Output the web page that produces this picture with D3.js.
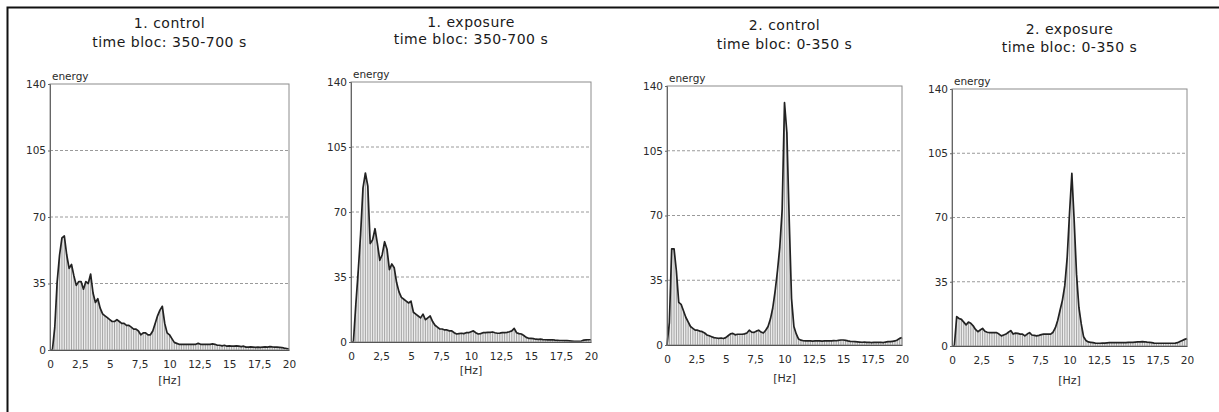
<!DOCTYPE html>
<html><head><meta charset="utf-8">
<script src="https://cdn.jsdelivr.net/npm/d3@7"></script>
<style>
html,body{margin:0;padding:0;background:#fff;}
svg{display:block;font-family:"DejaVu Sans",sans-serif;}
</style></head><body>
<svg id="chart" width="1219" height="412"></svg>
<script>
// frequency bins (Hz), 0.2 Hz resolution
const freqHz = d3.range(0, 101).map(i => +(i * 0.2).toFixed(1));

const energy1Control = [
  0,0,12,36,50,59,60,50,43,45,
  39,34,36,36,32,36,35,40,30,25,
  27,22,19,18,17,16,15,15,16,15,
  14,14,13,13,12,11,11,10,8,9,
  9,8,8,10,14,18,21,23,14,9,
  8,6,4,3.5,3,3,3,3,3,3,
  3,3,3.5,3,3,3,3,3,3.2,3,
  2.5,2.5,2.2,2.5,2,2.2,2,2,2.2,2,
  1.8,2,1.5,1.5,1.6,1.5,1.4,1.5,1.4,1.5,
  1.6,1.5,1.8,1.6,1.5,1.5,1.4,1.3,1.0,0.8,
  0.5];
const energy1Exposure = [
  0,0,20,38,58,83,91,84,53,55,
  61,53,44,47,54,50,39,42,40,32,
  27,24,23,22,21,22,16,15,14,13,
  15,12,13,14,11,9,8,7,7,6.5,
  6.5,6,6,5,4.3,4.5,4.7,4.5,5,5,
  5.5,6,5,4.3,4.5,5,5,5.2,5.2,5.4,
  5,4.7,4.8,5,5,5.2,5.5,6,7.3,5,
  4.5,4.3,3.5,2.5,2,2,1.8,1.5,1.4,1.5,
  1.3,1.2,1.1,1.1,1.2,1,0.9,0.8,0.8,0.7,
  0.7,0.6,0.5,0.4,0.3,0.3,0.5,1,1.1,1.2,
  1.2];
const energy2Control = [
  0,12,52,52,40,23,22,18.5,15,12.5,
  10,9,8,8,7.5,7.2,6.5,5.4,5,4.5,
  4,3.8,3.6,3.8,3.5,4,5,6,6.3,5.5,
  5.8,5.8,5.8,6,6.5,8,7,6.8,7.5,8,
  7,6.5,8,10,14,20,29,40,53,73,
  131,115,68,25,10,6,3.2,2.6,2.3,2.2,
  2.2,2.2,2.1,2.2,2.3,2.2,2.1,2.2,2.3,2.2,
  2.2,2.4,2.3,2.5,2.7,2.7,2.5,2.2,2,1.9,
  1.8,1.7,1.6,1.5,1.6,1.4,1.5,1.3,1.4,1.5,
  1.4,1.5,1.3,1.6,1.8,1.8,2,2.2,2.7,3.6,
  4];
const energy2Exposure = [
  0,0,16,15,14.5,13,11.5,13,12.4,11,
  9,7.8,8.7,9.6,8,7.5,7.3,7.3,7.3,7.3,
  6.5,5.5,6,6.5,7.5,8.4,6.5,7,6.9,6.5,
  6.5,5.5,6.5,7.3,6,5.8,5.5,5.8,6.2,6.5,
  6.5,6.5,6.5,7.5,10,14,19.6,25,33,48,
  72,94,68,39,21,12,5,3,2.2,2,
  1.8,1.6,1.5,1.5,1.6,1.6,1.7,1.8,1.8,1.8,
  1.8,1.8,1.9,1.8,1.8,2,2,2,2.1,2.2,
  2.3,2.4,2.3,2.1,2,1.8,1.6,1.5,1.5,1.5,
  1.5,1.5,1.5,1.5,1.5,1.6,1.8,2.4,3,3.6,
  4];

const titleLine1 = ["1. control", "1. exposure", "2. control", "2. exposure"];
const titleLine2 = ["time bloc: 350-700 s", "time bloc: 350-700 s", "time bloc: 0-350 s", "time bloc: 0-350 s"];
const yTicks = [0, 35, 70, 105, 140];
const gridValues = [35, 70, 105];
const xTicks = [0, 2.5, 5, 7.5, 10, 12.5, 15, 17.5, 20];
const xTickLabels = ["0", "2,5", "5", "7,5", "10", "12,5", "15", "17,5", "20"];
const yLabel = "energy";
const xLabel = "[Hz]";
const series = [energy1Control, energy1Exposure, energy2Control, energy2Exposure];

// layout (pixel boxes of each panel)
const boxes = [
  {left: 50,  right: 289,  top: 84, bottom: 350, t1: 23, t2: 42, hz: 380},
  {left: 351, right: 591,  top: 82, bottom: 342, t1: 22, t2: 39, hz: 370},
  {left: 667, right: 902,  top: 86, bottom: 345, t1: 25, t2: 44, hz: 378},
  {left: 952, right: 1187, top: 89, bottom: 346, t1: 29, t2: 47, hz: 380}
];

const svg = d3.select("#chart");
// outer frame (top and left edges)
svg.append("path").attr("d", "M7.5,412V7.5H1219").attr("fill", "none")
  .attr("stroke", "#111").attr("stroke-width", 2);

series.forEach((vals, p) => {
  const b = boxes[p];
  const data = freqHz.map((f, i) => ({f, v: vals[i]}));
  const x = d3.scaleLinear().domain([0, 20]).range([b.left, b.right]);
  const y = d3.scaleLinear().domain([0, 140]).range([b.bottom, b.top]);
  const g = svg.append("g");
  const cx = (b.left + b.right) / 2;

  g.append("text").attr("x", cx).attr("y", b.t1).attr("dy", "0.36em")
    .attr("text-anchor", "middle").attr("font-size", 14).attr("letter-spacing", 0.5)
    .attr("fill", "#1a1a1a").text(titleLine1[p]);
  g.append("text").attr("x", cx).attr("y", b.t2).attr("dy", "0.36em")
    .attr("text-anchor", "middle").attr("font-size", 14).attr("letter-spacing", 0.5)
    .attr("fill", "#1a1a1a").text(titleLine2[p]);

  // grid
  g.selectAll("line.grid").data(gridValues).enter().append("line")
    .attr("x1", b.left).attr("x2", b.right)
    .attr("y1", d => y(d)).attr("y2", d => y(d))
    .attr("stroke", "#9a9a9a").attr("stroke-width", 1).attr("stroke-dasharray", "3,2");

  // area fill
  g.append("path").datum(data)
    .attr("d", d3.area().x(d => x(d.f)).y0(y(0)).y1(d => y(d.v)))
    .attr("fill", "#ececec");
  // hatching
  g.selectAll("line.hatch").data(data.filter(d => d.v > 0)).enter().append("line")
    .attr("x1", d => x(d.f)).attr("x2", d => x(d.f))
    .attr("y1", y(0)).attr("y2", d => y(d.v))
    .attr("stroke", "#858585").attr("stroke-width", 0.7);
  // curve
  g.append("path").datum(data)
    .attr("d", d3.line().x(d => x(d.f)).y(d => y(d.v)))
    .attr("fill", "none").attr("stroke", "#222").attr("stroke-width", 1.7)
    .attr("stroke-linejoin", "round");

  // frame
  g.append("rect").attr("x", b.left).attr("y", b.top)
    .attr("width", b.right - b.left).attr("height", b.bottom - b.top)
    .attr("fill", "none").attr("stroke", "#8c8c8c").attr("stroke-width", 1);

  // axes
  const ya = g.append("g").attr("transform", `translate(${b.left},0)`)
    .call(d3.axisLeft(y).tickValues(yTicks).tickSize(2).tickPadding(2).tickFormat(d3.format("d")));
  ya.select(".domain").attr("stroke", "#666");
  ya.selectAll("text").attr("font-size", 10.5).attr("fill", "#2a2a2a").attr("font-family", "DejaVu Sans");
  ya.selectAll("line").attr("stroke", "#666");

  const xa = g.append("g").attr("transform", `translate(0,${b.bottom})`)
    .call(d3.axisBottom(x).tickValues(xTicks).tickSize(0).tickPadding(11)
      .tickFormat((d, i) => xTickLabels[i]));
  xa.select(".domain").attr("stroke", "#555");
  xa.selectAll("text").attr("font-size", 10.5).attr("fill", "#2a2a2a").attr("font-family", "DejaVu Sans");

  g.append("text").attr("x", b.left + 2).attr("y", b.top - 8).attr("dy", "0.36em")
    .attr("font-size", 10.5).attr("fill", "#2a2a2a").text(yLabel);
  g.append("text").attr("x", cx).attr("y", b.hz).attr("dy", "0.36em")
    .attr("text-anchor", "middle").attr("font-size", 11).attr("fill", "#2a2a2a").text(xLabel);
});
</script>
</body></html>
